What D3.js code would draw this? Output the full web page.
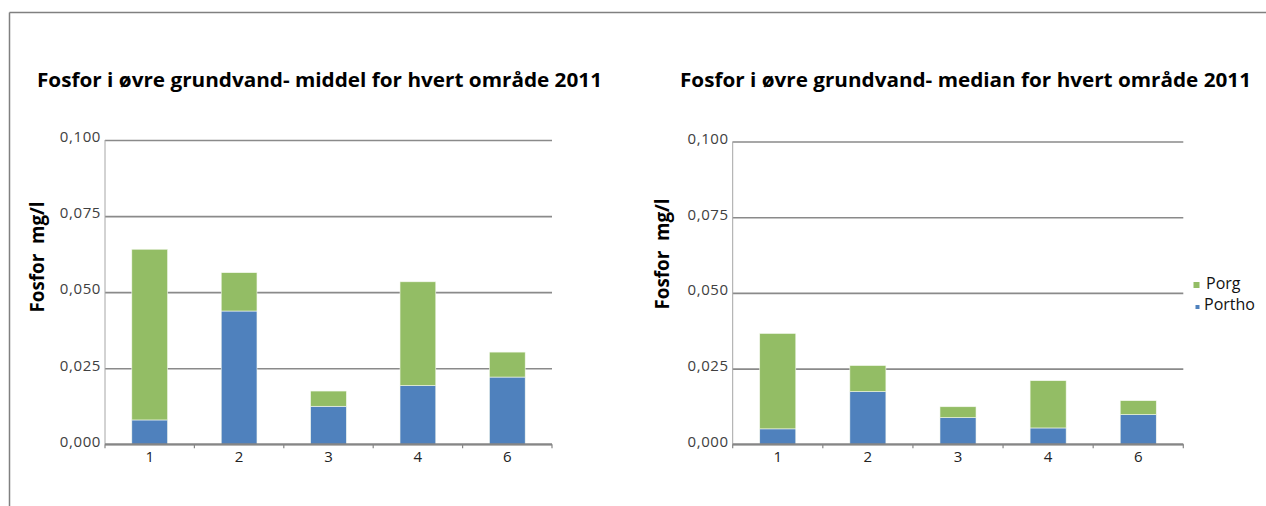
<!DOCTYPE html>
<html>
<head>
<meta charset="utf-8">
<script src="https://cdn.jsdelivr.net/npm/d3@7"></script>
<style>
  body { margin: 0; background: #fff; }
  svg { display: block; font-family: 'Open Sans', sans-serif; }
</style>
</head>
<body>
<div id="chart"></div>
<script>
// data
const areas = ['1', '2', '3', '4', '6']
const seriesKeys = ['Portho', 'Porg']
const meanPortho = [0.0080, 0.0438, 0.0125, 0.0193, 0.0221]
const meanPorg = [0.0561, 0.0126, 0.0050, 0.0341, 0.0082]
const medianPortho = [0.0051, 0.0174, 0.0088, 0.0054, 0.0098]
const medianPorg = [0.0315, 0.0086, 0.0036, 0.0156, 0.0046]
const yTicks = [0, 0.025, 0.05, 0.075, 0.1]
const titles = [
  'Fosfor i øvre grundvand- middel for hvert område 2011',
  'Fosfor i øvre grundvand- median for hvert område 2011'
]
const yLabel = 'Fosfor  mg/l'

const width = 1266
const height = 506

const colors = { Portho: '#4f81bd', Porg: '#93bd65' }
const locale = d3.formatLocale({ decimal: ',', thousands: '.', grouping: [3], currency: ['', ' kr'] })
const fmt = locale.format('.3f')

const svg = d3
  .select('#chart')
  .append('svg')
  .attr('width', width)
  .attr('height', height)

// frame round the page
svg.append('line')
  .attr('x1', 9.5).attr('x2', width).attr('y1', 12.5).attr('y2', 12.5)
  .attr('stroke', '#808080').attr('stroke-width', 1.5)
svg.append('line')
  .attr('x1', 9.5).attr('x2', 9.5).attr('y1', 12.5).attr('y2', height)
  .attr('stroke', '#808080').attr('stroke-width', 1.5)

const panels = [
  { title: titles[0], titleX: 37, titleW: 565, left: 105, right: 552, top: 140, bottom: 444.3, labelX: 44, labelY: 257, portho: meanPortho, porg: meanPorg },
  { title: titles[1], titleX: 680, titleW: 571, left: 732.7, right: 1183.3, top: 141.5, bottom: 444.3, labelX: 669, labelY: 254, portho: medianPortho, porg: medianPorg, legend: true }
]

panels.forEach(drawPanel)

function drawPanel(p) {
  const g = svg.append('g')

  const rows = areas.map((a, i) => ({ area: a, Portho: p.portho[i], Porg: p.porg[i] }))
  const stacked = d3.stack().keys(seriesKeys)(rows)

  const x = d3.scaleBand()
    .domain(areas)
    .range([p.left, p.right])
    .paddingInner(0.6)
    .paddingOuter(0.3)

  const y = d3.scaleLinear()
    .domain([0, 0.1])
    .range([p.bottom, p.top])

  // Title
  g.append('text')
    .attr('x', p.titleX)
    .attr('y', 87)
    .attr('textLength', p.titleW)
    .attr('lengthAdjust', 'spacingAndGlyphs')
    .style('font-size', '20px')
    .style('font-weight', 700)
    .attr('fill', '#000')
    .text(p.title)

  // Y axis with gridlines
  const yAxis = g.append('g')
    .attr('transform', `translate(${p.left},0)`)
    .call(d3.axisLeft(y).tickValues(yTicks).tickFormat(fmt).tickSize(-(p.right - p.left)).tickPadding(4))
  yAxis.select('.domain').remove()
  yAxis.selectAll('.tick line')
    .attr('stroke', '#8a8a8a')
    .attr('stroke-width', 1.6)
  yAxis.selectAll('.tick text')
    .attr('fill', '#404040')
    .attr('dy', '0.12em')
    .attr('letter-spacing', '0.6px')
    .style('font-size', '15px')
    .style('font-family', "'Open Sans', sans-serif")

  // vertical axis line
  g.append('line')
    .attr('x1', p.left).attr('x2', p.left)
    .attr('y1', y(0.1)).attr('y2', y(0))
    .attr('stroke', '#a6a6a6').attr('stroke-width', 1)

  // Bars
  g.selectAll('.series')
    .data(stacked)
    .enter()
    .append('g')
    .attr('fill', d => colors[d.key])
    .selectAll('rect')
    .data(d => d)
    .enter()
    .append('rect')
    .attr('x', d => x(d.data.area))
    .attr('width', x.bandwidth())
    .attr('y', d => y(d[1]))
    .attr('height', d => y(d[0]) - y(d[1]))
    .attr('stroke', '#f4f8ee')
    .attr('stroke-width', 0.6)

  // X axis line + ticks at category boundaries
  const step = x.step()
  const bounds = d3.range(areas.length + 1).map(i => p.left + i * step)
  g.append('line')
    .attr('x1', p.left).attr('x2', p.right)
    .attr('y1', y(0)).attr('y2', y(0))
    .attr('stroke', '#868686').attr('stroke-width', 2)
  g.selectAll('.xtick')
    .data(bounds)
    .enter()
    .append('line')
    .attr('x1', d => d).attr('x2', d => d)
    .attr('y1', y(0)).attr('y2', y(0) + 4)
    .attr('stroke', '#868686').attr('stroke-width', 1.2)

  g.selectAll('.xlabel')
    .data(areas)
    .enter()
    .append('text')
    .attr('x', d => x(d) + x.bandwidth() / 2)
    .attr('y', y(0) + 18)
    .attr('text-anchor', 'middle')
    .attr('fill', '#222')
    .style('font-size', '15px')
    .text(d => d)

  // Y label
  g.append('text')
    .attr('transform', `translate(${p.labelX},${p.labelY}) rotate(-90)`)
    .attr('text-anchor', 'middle')
    .attr('textLength', 111)
    .attr('lengthAdjust', 'spacingAndGlyphs')
    .style('font-size', '19px')
    .style('font-weight', 700)
    .attr('fill', '#000')
    .style('white-space', 'pre')
    .text(yLabel)

  // Legend
  if (p.legend) {
    const legendItems = [
      { key: 'Porg', y: 289, size: 6 },
      { key: 'Portho', y: 310, size: 4 }
    ]
    const legend = g.append('g')
    legend.selectAll('g')
      .data(legendItems)
      .enter()
      .append('g')
      .each(function(d) {
        const lg = d3.select(this)
        lg.append('rect')
          .attr('x', 1199.5 - d.size)
          .attr('y', d.y - 1 - d.size)
          .attr('width', d.size)
          .attr('height', d.size)
          .attr('fill', colors[d.key])
        lg.append('text')
          .attr('x', d.key === 'Porg' ? 1206 : 1204)
          .attr('y', d.y)
          .attr('fill', '#111')
          .style('font-size', '16px')
          .text(d.key)
      })
  }
}
</script>
</body>
</html>
